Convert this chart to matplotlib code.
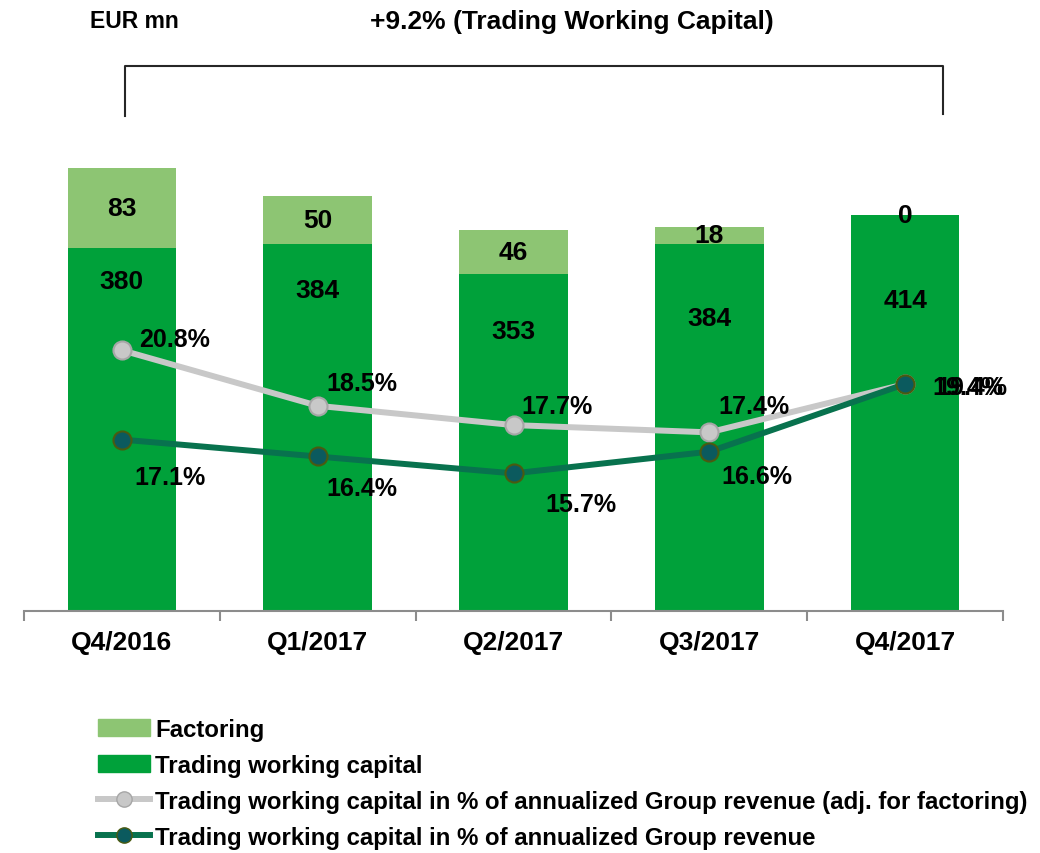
import numpy as np
from matplotlib import pyplot as plt
from matplotlib.patches import Patch
from matplotlib.lines import Line2D

plt.rcParams['font.family'] = ['Liberation Sans', 'DejaVu Sans']
plt.rcParams['font.weight'] = 'bold'

quarters = ['Q4/2016', 'Q1/2017', 'Q2/2017', 'Q3/2017', 'Q4/2017']
twc = [380, 384, 353, 384, 414]
factoring = [83, 50, 46, 18, 0]
pct_adj = [20.8, 18.5, 17.7, 17.4, 19.4]
pct = [17.1, 16.4, 15.7, 16.6, 19.4]

# where the TWC value labels sit inside the bars (data units)
twc_label_y = [345, 336, 293, 307, 325]
# label offsets in pixels (dx, dy) from the markers
adj_offsets = [(53, 11), (44, 23), (43, 19), (45, 26), (63, -3)]
pct_offsets = [(48, -37), (44, -32), (67, -31), (48, -24), (67, -3)]

c_fact = '#8DC573'
c_twc = '#00A13A'
c_gray = '#C8C8C8'
c_dark = '#08724E'

fig = plt.figure(figsize=(10.4, 8.54), dpi=100)
ax = fig.add_axes([24/1040, (854-612)/854, 979/1040, 478/854])
x = np.arange(len(quarters))
w = 0.555

ax.bar(x, twc, w, color=c_twc, zorder=2)
ax.bar(x, factoring, w, bottom=twc, color=c_fact, zorder=2)
ax.set_xlim(-0.5, 4.5)
ax.set_ylim(0, 500)

for i in range(len(x)):
    ax.text(x[i], twc_label_y[i], str(twc[i]), ha='center', va='center',
            fontsize=19, fontweight='bold', zorder=5)
    ax.text(x[i], twc[i] + factoring[i] / 2, str(factoring[i]), ha='center',
            va='center', fontsize=19, fontweight='bold', zorder=5)

for s in ['top', 'right', 'left']:
    ax.spines[s].set_visible(False)
ax.spines['bottom'].set_color('#8C8C8C')
ax.spines['bottom'].set_linewidth(1.5)
ax.set_yticks([])
ax.set_xticks(np.arange(-0.5, 5, 1))
ax.set_xticklabels([])
ax.set_xticks(x, minor=True)
ax.set_xticklabels(quarters, minor=True, fontsize=19, fontweight='bold')
ax.tick_params(axis='x', which='major', length=7, width=1.5, color='#8C8C8C')
ax.tick_params(axis='x', which='minor', length=0, pad=14)

ax2 = ax.twinx()
ax2.set_ylim(10, 29.8)
ax2.axis('off')
ax2.plot(x, pct_adj, color=c_gray, lw=4.3, marker='o', ms=13,
         mfc='#C8C8C8', mec='#A6A6A6', mew=1.5, zorder=3)
ax2.plot(x, pct, color=c_dark, lw=4.3, marker='o', ms=13,
         mfc='#0B5A5E', mec='#4A5A10', mew=1.5, zorder=4)

k = 72 / 100
for i in range(len(x)):
    ax2.annotate(f'{pct_adj[i]:.1f}%', (x[i], pct_adj[i]),
                 xytext=(adj_offsets[i][0] * k, adj_offsets[i][1] * k),
                 textcoords='offset points', ha='center', va='center',
                 fontsize=18, fontweight='bold', zorder=6)
    ax2.annotate(f'{pct[i]:.1f}%', (x[i], pct[i]),
                 xytext=(pct_offsets[i][0] * k, pct_offsets[i][1] * k),
                 textcoords='offset points', ha='center', va='center',
                 fontsize=18, fontweight='bold', zorder=6)

# header texts and bracket
fig.text(134/1040, 1 - 22/854, 'EUR mn', ha='center', va='center',
         fontsize=16.5, fontweight='bold')
fig.text(572/1040, 1 - 22/854, '+9.2% (Trading Working Capital)', ha='center',
         va='center', fontsize=19, fontweight='bold')
bx = [125/1040, 125/1040, 943/1040, 943/1040]
by = [1 - 117/854, 1 - 67/854, 1 - 67/854, 1 - 115/854]
fig.add_artist(Line2D(bx, by, color='#262626', lw=1.5))

handles = [
    Patch(color=c_fact),
    Patch(color=c_twc),
    Line2D([], [], color=c_gray, lw=4.3, marker='o', ms=11, mfc='#C8C8C8', mec='#A6A6A6'),
    Line2D([], [], color=c_dark, lw=4.3, marker='o', ms=11, mfc='#0B5A5E', mec='#4A5A10'),
]
labels = ['Factoring', 'Trading working capital',
          'Trading working capital in % of annualized Group revenue (adj. for factoring)',
          'Trading working capital in % of annualized Group revenue']
fig.legend(handles, labels, loc='upper left', bbox_to_anchor=(76/1040, 1 - 697/854),
           frameon=False, prop={'weight': 'bold', 'size': 17.3},
           handlelength=2.2, handletextpad=0.2, labelspacing=0.54,
           handleheight=0.7)

fig.savefig('out.png', dpi=100)
